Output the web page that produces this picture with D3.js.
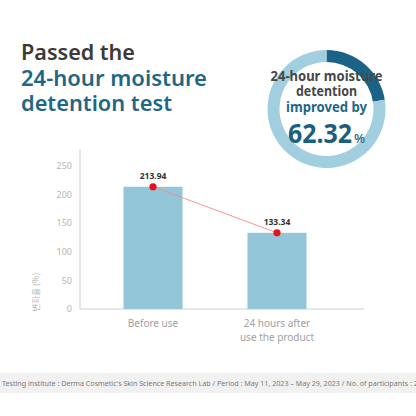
<!DOCTYPE html>
<html><head><meta charset="utf-8">
<script src="https://cdn.jsdelivr.net/npm/d3@7"></script>
<style>html,body{margin:0;padding:0;background:#fff;}svg{display:block;}</style>
</head><body>
<svg id="c" width="416" height="416"></svg>
<script>
const categories = ["Before use", "24 hours after\nuse the product"];
const values = [213.94, 133.34];
const valueLabels = ["213.94", "133.34"];
const yTicks = [0, 50, 100, 150, 200, 250];
const ringShare = [22.5, 77.5]; // dark, light
const titleLines = ["Passed the", "24-hour moisture", "detention test"];
const ringLines = ["24-hour moisture", "detention", "improved by"];
const ringValue = "62.32";
const yTitle = "변화율 (%)";
const footer = "Testing institute : Derma Cosmetic's Skin Science Research Lab / Period : May 11, 2023 \u2013 May 29, 2023 / No. of participants : 20";

const svg = d3.select("#c");
const sans = "'Noto Sans', 'Noto Sans CJK KR', sans-serif";

// Title
const tColors = ["#3b3b3b", "#1f6785", "#1f6785"];
const tBase = [60, 86, 111];
const tWidth = [114, 186, 151];
titleLines.forEach((t, i) => {
  svg.append("text").attr("x", 21).attr("y", tBase[i])
    .attr("font-family", sans).attr("font-weight", 600).attr("font-size", 21)
    .attr("fill", tColors[i]).attr("textLength", tWidth[i]).attr("lengthAdjust", "spacingAndGlyphs")
    .text(t);
});

// Ring
const cx = 326.5, cy = 109;
const pie = d3.pie().sort(null)(ringShare);
const arc = d3.arc().innerRadius(47).outerRadius(59);
const ringG = svg.append("g").attr("transform", `translate(${cx},${cy})`);
ringG.selectAll("path").data(pie).join("path")
  .attr("d", arc).attr("fill", (d, i) => i === 0 ? "#1b6386" : "#a2cfdf");

const rBase = [81, 96, 112];
const rWidth = [112, 61, 81];
const rColor = ["#474747", "#474747", "#1f6785"];
ringLines.forEach((t, i) => {
  svg.append("text").attr("x", cx).attr("y", rBase[i]).attr("text-anchor", "middle")
    .attr("font-family", sans).attr("font-weight", 700).attr("font-size", 13.5)
    .attr("fill", rColor[i]).attr("textLength", rWidth[i]).attr("lengthAdjust", "spacingAndGlyphs")
    .text(t);
});
svg.append("text").attr("x", 288).attr("y", 143)
  .attr("font-family", sans).attr("font-weight", 700).attr("font-size", 27)
  .attr("fill", "#1b5f80").attr("textLength", 64).attr("lengthAdjust", "spacingAndGlyphs")
  .text(ringValue);
svg.append("text").attr("x", 354).attr("y", 143)
  .attr("font-family", sans).attr("font-weight", 500).attr("font-size", 13)
  .attr("fill", "#1b5f80").text("%");

// Chart
const y = d3.scaleLinear().domain([0, 280]).range([309, 149]);
const x = d3.scaleBand().domain(categories).range([123.5, 306.5]).paddingInner(0.524).paddingOuter(0);

const axisColor = "#cfcfcf";
svg.append("line").attr("x1", 80).attr("x2", 80).attr("y1", y(280)).attr("y2", y(0))
  .attr("stroke", axisColor).attr("stroke-width", 1);
svg.append("line").attr("x1", 80).attr("x2", 364).attr("y1", y(0)).attr("y2", y(0))
  .attr("stroke", axisColor).attr("stroke-width", 1);

svg.selectAll("text.yt").data(yTicks).join("text").attr("class", "yt")
  .attr("x", 72).attr("y", d => y(d)).attr("dy", "0.35em").attr("text-anchor", "end")
  .attr("font-family", sans).attr("font-size", 9).attr("fill", "#b5b5b5").text(d => d);

svg.append("text").attr("transform", `translate(39,292) rotate(-90)`).attr("text-anchor", "middle")
  .attr("font-family", "'Noto Sans CJK KR', sans-serif").attr("font-size", 8.5).attr("fill", "#b5b5b5")
  .text(yTitle);

svg.selectAll("rect.bar").data(values).join("rect").attr("class", "bar")
  .attr("x", (d, i) => x(categories[i])).attr("width", x.bandwidth())
  .attr("y", d => y(d)).attr("height", d => y(0) - y(d)).attr("fill", "#93c6d8");

const cxs = categories.map(c => x(c) + x.bandwidth() / 2);
svg.append("path").datum(values)
  .attr("d", d3.line().x((d, i) => cxs[i]).y(d => y(d)))
  .attr("fill", "none").attr("stroke", "#f08a8a").attr("stroke-width", 0.9);
svg.selectAll("circle.pt").data(values).join("circle").attr("class", "pt")
  .attr("cx", (d, i) => cxs[i]).attr("cy", d => y(d)).attr("r", 3.6).attr("fill", "#e8101a");
svg.selectAll("text.vl").data(values).join("text").attr("class", "vl")
  .attr("x", (d, i) => cxs[i]).attr("y", d => y(d) - 8).attr("text-anchor", "middle")
  .attr("font-family", sans).attr("font-weight", 700).attr("font-size", 8.5).attr("fill", "#333")
  .text((d, i) => valueLabels[i]);

categories.forEach((c, i) => {
  const lines = c.split("\n");
  const t = svg.append("text").attr("x", cxs[i]).attr("y", 327).attr("text-anchor", "middle")
    .attr("font-family", sans).attr("font-size", 10).attr("fill", "#a0a0a0");
  lines.forEach((l, j) => t.append("tspan").attr("x", cxs[i]).attr("dy", j === 0 ? 0 : 13.5).text(l));
});

// Footer
svg.append("rect").attr("x", 0).attr("y", 373).attr("width", 416).attr("height", 20).attr("fill", "#f1f1f1");
const ft = svg.append("text").attr("x", 2).attr("y", 386)
  .attr("font-family", sans).attr("font-size", 9).attr("fill", "#7a7a7a").text(footer);
// scale font so that "…participants :" ends near x=413
const probe = svg.append("text").attr("font-family", sans).attr("font-size", 9)
  .text(footer.slice(0, footer.lastIndexOf(":") + 1));
const w = probe.node().getComputedTextLength();
probe.remove();
ft.attr("font-size", 9 * 411 / w);
</script>
</body></html>
